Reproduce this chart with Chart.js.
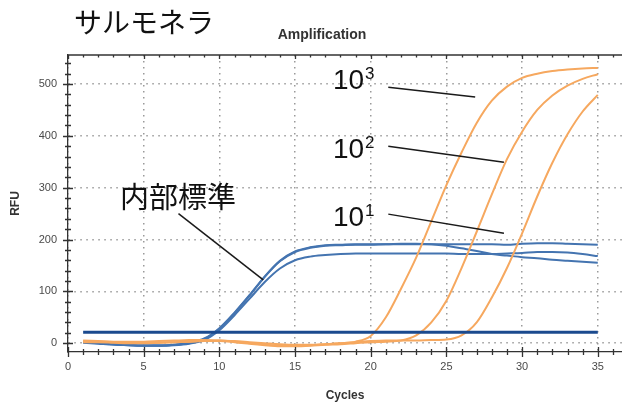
<!DOCTYPE html>
<html>
<head>
<meta charset="utf-8">
<script src="https://cdn.jsdelivr.net/npm/chart.js@4"></script>
<style>
  html, body { margin: 0; padding: 0; background: #fff; }
  #wrap { width: 622px; height: 405px; position: relative; }
</style>
</head>
<body>
<div id="wrap"><canvas id="c"></canvas></div>
<script>
// Cycle numbers
const cycles = [1,2,3,4,5,6,7,8,9,10,11,12,13,14,15,16,17,18,19,20,21,22,23,24,25,26,27,28,29,30,31,32,33,34,35];

// Salmonella target, 10^3 / 10^2 / 10^1 copies (RFU per cycle)
const target1e3 = [4,3,2,2,1,1,2,3,5,5,3,0,-3,-5,-5,-4,-2,0,3,14,50,105,165,235,305,368,425,468,495,512,520,525,528,530,531];
const target1e2 = [2,2,1,0,0,1,2,3,4,4,2,-1,-4,-6,-6,-5,-3,-2,0,2,3,5,15,40,82,145,215,287,355,408,450,478,497,510,519];
const target1e1 = [5,4,3,3,3,4,5,6,6,5,4,2,0,-2,-3,-3,-2,0,2,4,5,5,5,6,7,15,40,88,145,212,283,348,403,447,479];

// Internal control, one trace per well
const control1 = [3,1,-1,-3,-4,-4,-3,0,8,28,58,92,128,158,176,184,188,189,190,190,191,191,191,191,191,191,191,191,190,192,193,193,192,191,190];
const control2 = [2,0,-2,-4,-5,-5,-3,1,9,29,59,93,129,159,177,185,189,190,191,191,191,192,192,191,188,183,178,172,169,166,164,161,159,157,155];
const control3 = [1,-1,-3,-4,-5,-5,-4,-1,6,25,54,86,118,144,160,167,170,172,173,173,173,173,173,173,173,172,172,172,173,174,176,176,175,172,168];

// Threshold line
const thresholdRFU = 21;
const thresholdSpan = [1, 35];

// Axis tick values
const xTickStep = 5;
const yTickStep = 100;

const pts = arr => arr.map((v, i) => ({ x: cycles[i], y: v }));

// Callout labels and their leader lines, in data units (cycle, RFU)
const callouts = [
  { base: '10', sup: '3', at: [17.5, 490], from: [21.16, 494], to: [26.9, 475] },
  { base: '10', sup: '2', at: [17.5, 357], from: [21.16, 380], to: [28.8, 349] },
  { base: '10', sup: '1', at: [17.5, 226], from: [21.16, 249], to: [28.8, 212] },
  { base: '内部標準', sup: '', at: [3.44, 282], from: [7.3, 250], to: [12.9, 122] }
];

const ORANGE = '#f6a85f';
const BLUE = '#4474b0';
const NAVY = '#1b4a8e';
const AXIS = '#333';

const lineDs = (label, arr, color, order) => ({
  label, data: pts(arr), borderColor: color, borderWidth: 2, pointRadius: 0,
  cubicInterpolationMode: 'monotone', fill: false, order
});

const decor = {
  id: 'decor',
  afterDatasetsDraw(chart) {
    const { ctx, chartArea: a, scales: { x, y } } = chart;
    ctx.save();
    ctx.strokeStyle = AXIS;
    ctx.lineWidth = 1.3;
    // top frame line
    ctx.beginPath();
    ctx.moveTo(a.left, a.top); ctx.lineTo(a.right, a.top);
    ctx.stroke();
    // x ticks: every cycle, bigger every 5
    ctx.beginPath();
    for (let c = 0; c <= x.max; c++) {
      const px = Math.round(x.getPixelForValue(c)) + 0.5;
      const major = c % xTickStep === 0;
      const l = major ? 5 : 3;
      ctx.moveTo(px, a.bottom - l); ctx.lineTo(px, a.bottom + l);
      ctx.moveTo(px, a.top); ctx.lineTo(px, a.top + (major ? 4 : 2.5));
    }
    // y ticks: every 20 RFU, bigger every 100
    for (let v = 0; v <= y.max; v += 20) {
      const py = Math.round(y.getPixelForValue(v)) + 0.5;
      const l = v % yTickStep === 0 ? 5 : 3;
      ctx.moveTo(a.left - l, py); ctx.lineTo(a.left + l, py);
    }
    for (let v = -20; v >= y.min; v -= 20) {
      const py = Math.round(y.getPixelForValue(v)) + 0.5;
      ctx.moveTo(a.left - 3, py); ctx.lineTo(a.left + 3, py);
    }
    ctx.stroke();
    ctx.restore();
  },
  afterDraw(chart) {
    const { ctx, scales: { x, y } } = chart;
    ctx.save();
    // heading
    ctx.fillStyle = '#111';
    ctx.textBaseline = 'middle';
    ctx.textAlign = 'left';
    ctx.font = '28px "Noto Sans CJK JP"';
    ctx.fillText('サルモネラ', 74, 22);
    ctx.fillStyle = '#333';
    ctx.textAlign = 'center';
    ctx.font = 'bold 14px "Liberation Sans"';
    ctx.fillText('Amplification', 322, 35);

    // callouts
    ctx.strokeStyle = '#1a1a1a';
    ctx.lineWidth = 1.5;
    ctx.fillStyle = '#111';
    ctx.textAlign = 'left';
    for (const c of callouts) {
      const tx = x.getPixelForValue(c.at[0]);
      const ty = y.getPixelForValue(c.at[1]);
      if (c.sup) {
        ctx.textBaseline = 'alphabetic';
        ctx.font = '28px "Liberation Sans"';
        ctx.fillText(c.base, tx, ty);
        const w = ctx.measureText(c.base).width;
        ctx.font = '17px "Liberation Sans"';
        ctx.fillText(c.sup, tx + w + 1, ty - 10);
      } else {
        ctx.textBaseline = 'middle';
        ctx.font = '29px "Noto Sans CJK JP"';
        ctx.fillText(c.base, tx, ty);
      }
      ctx.beginPath();
      ctx.moveTo(x.getPixelForValue(c.from[0]), y.getPixelForValue(c.from[1]));
      ctx.lineTo(x.getPixelForValue(c.to[0]), y.getPixelForValue(c.to[1]));
      ctx.stroke();
    }
    ctx.restore();
  }
};

new Chart(document.getElementById('c'), {
  type: 'line',
  data: {
    datasets: [
      {
        label: 'Threshold',
        data: thresholdSpan.map(c => ({ x: c, y: thresholdRFU })),
        borderColor: NAVY, borderWidth: 3, pointRadius: 0, fill: false, order: 0
      },
      lineDs('10^3', target1e3, ORANGE, 1),
      lineDs('10^2', target1e2, ORANGE, 1),
      lineDs('10^1', target1e1, ORANGE, 1),
      lineDs('IC 1', control1, BLUE, 2),
      lineDs('IC 2', control2, BLUE, 2),
      lineDs('IC 3', control3, BLUE, 2)
    ]
  },
  options: {
    responsive: true,
    maintainAspectRatio: false,
    animation: false,
    layout: { padding: { top: 55, right: 0, left: 0, bottom: 0 } },
    plugins: { legend: { display: false }, title: { display: false }, tooltip: { enabled: false } },
    scales: {
      x: {
        type: 'linear',
        min: 0, max: 36.6,
        afterFit: s => { s.height = 53; },
        ticks: { stepSize: xTickStep, includeBounds: false, color: '#4a4a4a', padding: 8,
                 font: { family: 'Liberation Sans', size: 11 } },
        grid: { color: '#9a9a9a', lineWidth: 1.5, drawTicks: false },
        border: { display: true, color: AXIS, width: 1.3, dash: [1.5, 4.5] },
        title: { display: true, text: 'Cycles', color: '#333',
                 font: { family: 'Liberation Sans', size: 12, weight: 'bold' },
                 padding: { top: 0, bottom: 2 } }
      },
      y: {
        min: -17, max: 556,
        afterFit: s => { s.width = 68; },
        ticks: { stepSize: yTickStep, includeBounds: false, color: '#4a4a4a', padding: 11,
                 font: { family: 'Liberation Sans', size: 11 } },
        grid: { color: '#9a9a9a', lineWidth: 1.5, drawTicks: false },
        border: { display: true, color: AXIS, width: 1.3, dash: [1.5, 4.5] },
        title: { display: true, text: 'RFU', color: '#333',
                 font: { family: 'Liberation Sans', size: 12, weight: 'bold' },
                 padding: { top: 8, bottom: 0 } }
      }
    }
  },
  plugins: [decor]
});
</script>
</body>
</html>
